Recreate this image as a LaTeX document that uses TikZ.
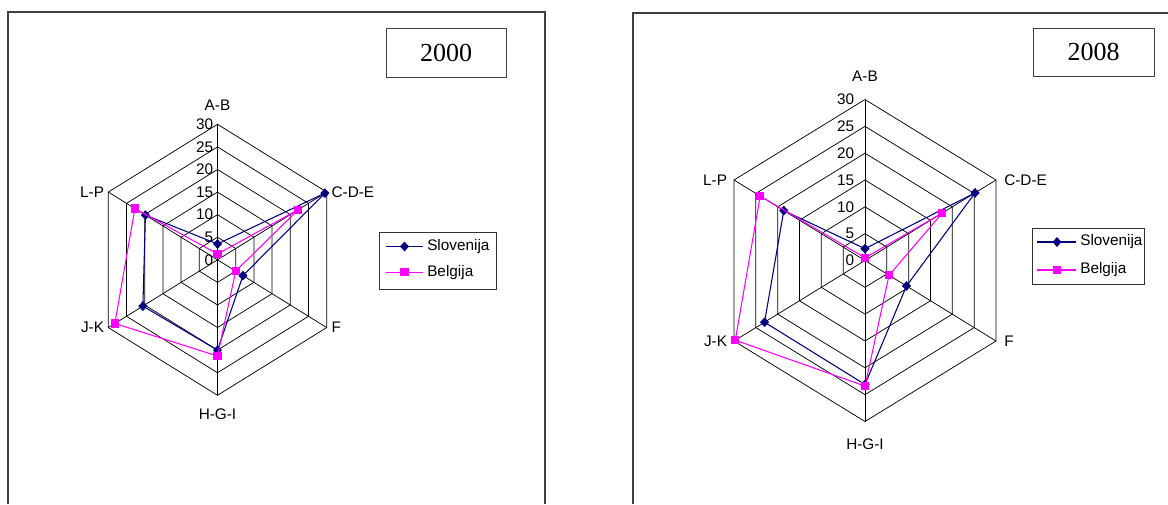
\documentclass[tikz,border=0pt]{standalone}
\usepackage{fontspec}
\setmainfont{Liberation Serif}
\newfontfamily\chartfont{Liberation Sans}
\usetikzlibrary{shapes.geometric}

\definecolor{slo}{RGB}{0,0,128}
\definecolor{bel}{RGB}{255,0,255}
\definecolor{panel}{RGB}{64,64,64}

\tikzset{
  grid/.style = {black, line width=0.55pt},
  lbl/.style = {font=\chartfont\fontsize{11.5}{13}\selectfont, inner sep=0pt},
  tick/.style = {lbl, anchor=east},
  sloline/.style = {slo, line width=0.8pt},
  belline/.style = {bel, line width=0.8pt},
  slomark/.style = {diamond, fill=slo, inner sep=0pt, minimum width=7pt, minimum height=7.5pt},
  belmark/.style = {rectangle, fill=bel, inner sep=0pt, minimum size=6.2pt},
  yearbox/.style = {draw=black!75, line width=0.6pt, font=\fontsize{19.5}{22}\selectfont},
  legbox/.style = {draw=black!80, line width=0.6pt}
}

\begin{document}
\begin{tikzpicture}[x=0.75pt, y=-0.75pt]
\useasboundingbox (0,0) rectangle (1168,504);

% panels
\draw[panel, line width=1.2pt] (8,504) -- (8,12) -- (545,12) -- (545,504);
\draw[panel, line width=1.2pt] (633,504) -- (633,13) -- (1168,13);

% ---- 2000 ----
\node[yearbox, minimum width=90pt, minimum height=37pt] (y1) at (446,53) {2000};
\begin{scope}[shift={(217.5,259.8)}, x=3.152pt, y=3.3875pt]
\foreach \r in {5,10,...,30}
  \draw[grid] (90:\r) -- (30:\r) -- (-30:\r) -- (-90:\r) -- (210:\r) -- (150:\r) -- cycle;
\foreach \a in {90,30,-30,-90,210,150}
  \draw[grid] (0,0) -- (\a:30);
\foreach \v in {0,5,...,30}
  \node[tick, xshift=-3pt] (t1-\v) at (90:\v) {\v};
\node[lbl, anchor=south, yshift=10.5pt] (ab1) at (90:30) {A-B};
\node[lbl, anchor=west, xshift=3.5pt] (cde1) at (30:30) {C-D-E};
\node[lbl, anchor=west, xshift=3.5pt] (f1) at (-30:30) {F};
\node[lbl, anchor=north, yshift=-10pt] (hgi1) at (-90:30) {H-G-I};
\node[lbl, anchor=east, xshift=-3pt] (jk1) at (210:30) {J-K};
\node[lbl, anchor=east, xshift=-3pt] (lp1) at (150:30) {L-P};
% Slovenija
\coordinate (s1ab) at (90:3.5);
\coordinate (s1cde) at (30:29.5);
\coordinate (s1f) at (-30:7);
\coordinate (s1hgi) at (-90:20);
\coordinate (s1jk) at (210:20.5);
\coordinate (s1lp) at (150:19.8);
\draw[sloline] (s1ab) -- (s1cde) -- (s1f) -- (s1hgi) -- (s1jk) -- (s1lp) -- (s1ab);
\foreach \p in {ab,cde,f,hgi,jk,lp}
  \node[slomark] (ms1\p) at (s1\p) {};
% Belgija
\coordinate (b1ab) at (90:1.3);
\coordinate (b1cde) at (30:22.2);
\coordinate (b1f) at (-30:5);
\coordinate (b1hgi) at (-90:21.3);
\coordinate (b1jk) at (210:28.2);
\coordinate (b1lp) at (150:22.7);
\draw[belline] (b1ab) -- (b1cde) -- (b1f) -- (b1hgi) -- (b1jk) -- (b1lp) -- (b1ab);
\foreach \p in {ab,cde,f,hgi,jk,lp}
  \node[belmark] (mb1\p) at (b1\p) {};
\end{scope}
% legend
\draw[legbox] (379,232) rectangle (496,289);
\coordinate (la1) at (386,246.5);
\coordinate (lb1) at (423,246.5);
\draw[sloline] (la1) -- (lb1);
\node[slomark] (lm1) at (404.5,246.5) {};
\node[lbl, anchor=west] (lt1) at (427,246.5) {Slovenija};
\coordinate (lc1) at (386,272.3);
\coordinate (ld1) at (423,272.3);
\draw[belline] (lc1) -- (ld1);
\node[belmark] (ln1) at (404.5,272.3) {};
\node[lbl, anchor=west] (lu1) at (427,272.3) {Belgija};

% ---- 2008 ----
\node[yearbox, minimum width=90.75pt, minimum height=36pt] (y2) at (1093.5,52) {2008};
\begin{scope}[shift={(865,260.5)}, x=3.782pt, y=4.025pt]
\foreach \r in {5,10,...,30}
  \draw[grid] (90:\r) -- (30:\r) -- (-30:\r) -- (-90:\r) -- (210:\r) -- (150:\r) -- cycle;
\foreach \a in {90,30,-30,-90,210,150}
  \draw[grid] (0,0) -- (\a:30);
\foreach \v in {0,5,...,30}
  \node[tick, xshift=-8pt] (t2-\v) at (90:\v) {\v};
\node[lbl, anchor=south, yshift=13pt] (ab2) at (90:30) {A-B};
\node[lbl, anchor=west, xshift=6pt] (cde2) at (30:30) {C-D-E};
\node[lbl, anchor=west, xshift=6pt] (f2) at (-30:30) {F};
\node[lbl, anchor=north, yshift=-13pt] (hgi2) at (-90:30) {H-G-I};
\node[lbl, anchor=east, xshift=-5pt] (jk2) at (210:30) {J-K};
\node[lbl, anchor=east, xshift=-5pt] (lp2) at (150:30) {L-P};
% Slovenija
\coordinate (s2ab) at (90:2.2);
\coordinate (s2cde) at (30:25.2);
\coordinate (s2f) at (-30:9.5);
\coordinate (s2hgi) at (-90:23.1);
\coordinate (s2jk) at (210:23);
\coordinate (s2lp) at (150:18.6);
\draw[sloline] (s2ab) -- (s2cde) -- (s2f) -- (s2hgi) -- (s2jk) -- (s2lp) -- (s2ab);
\foreach \p in {ab,cde,f,hgi,jk,lp}
  \node[slomark] (ms2\p) at (s2\p) {};
% Belgija
\coordinate (b2ab) at (90:0.5);
\coordinate (b2cde) at (30:17.7);
\coordinate (b2f) at (-30:5.5);
\coordinate (b2hgi) at (-90:23.4);
\coordinate (b2jk) at (210:29.7);
\coordinate (b2lp) at (150:24);
\draw[belline] (b2ab) -- (b2cde) -- (b2f) -- (b2hgi) -- (b2jk) -- (b2lp) -- (b2ab);
\foreach \p in {ab,cde,f,hgi,jk,lp}
  \node[belmark] (mb2\p) at (b2\p) {};
\end{scope}
% legend
\draw[legbox] (1032,228) rectangle (1144,284);
\coordinate (la2) at (1037,242);
\coordinate (lb2) at (1076,242);
\draw[sloline] (la2) -- (lb2);
\node[slomark] (lm2) at (1057,242) {};
\node[lbl, anchor=west] (lt2) at (1080,242) {Slovenija};
\coordinate (lc2) at (1037,270);
\coordinate (ld2) at (1076,270);
\draw[belline] (lc2) -- (ld2);
\node[belmark] (ln2) at (1057,270) {};
\node[lbl, anchor=west] (lu2) at (1080,270) {Belgija};
\end{tikzpicture}
\end{document}
